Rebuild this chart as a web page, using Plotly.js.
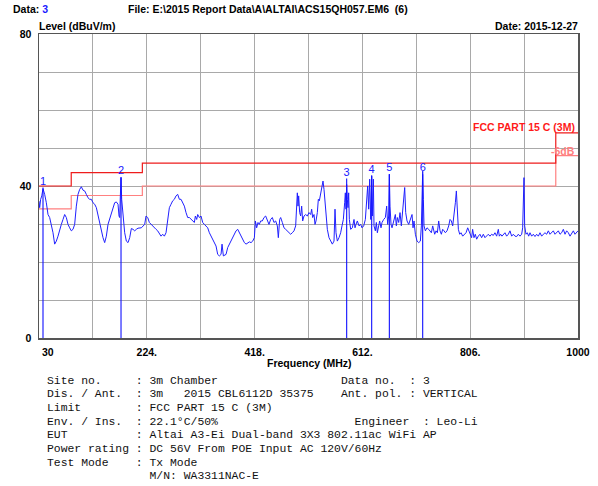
<!DOCTYPE html>
<html><head><meta charset="utf-8">
<script src="https://cdn.plot.ly/plotly-3.0.1.min.js"></script>
<style>body{margin:0;background:#fff}#chart{width:598px;height:486px}</style>
</head><body><div id="chart"></div>
<script>
const freqMHz = [
30,31.2,33,35,37.2,40.2,43.2,46.2,49.2,52.2,55.2,58.2,61.2,64.2,67.2,70.2,73.2,76.2,79.2,82.2,85.2,88.2,91.2,94.2,97.2,100.2,103.2,106.2,109.2,112.2,115.2,118.2,121.2,124.2,127.2,130.2,133.2,136.2,139.2,142.2,145.2,148.2,151.2,154.2,157.2,160.2,163.2,166.2,169.2,172.2,174,175.2,176.4,177.6,178.8,181.2,184.2,187.2,190.2,193.2,196.2,199.2,202.2,205.2,208.2,214.2,220.2,
222.6,225.6,228.6,231.6,234.6,237.6,240.6,243.6,246.6,249.6,252.6,255.6,258.6,261.6,264.6,267.6,270.6,273.6,276.6,279.6,282.6,285.6,288.6,291.6,294.6,297.6,300.6,303.6,306.6,309.6,311.4,313.8,315.6,318.6,321.6,324.6,327.6,330.6,333.6,336.6,339.6,342.6,345.6,348.6,351.6,354.6,357.6,359.4,361.8,364.8,366.6,369.6,372.6,375.6,378.6,381.6,384.6,387.6,390.6,393.6,396.6,399.6,402.6,405.6,408.6,411.6,414.6,417.6,419.4,
421.7,424.1,426.5,428.9,431.9,434.9,437.9,440.9,443.9,446.9,449.9,452.9,455.9,458.9,460.7,463.1,464.9,467.9,470.9,473.9,476.9,479.9,482.9,485.9,488.9,491.9,493.7,494.9,496.1,497.3,499.1,500.9,502.7,504.5,506.9,509.9,512.9,515.9,518.9,520.7,522.5,524.9,526.7,528.5,530.9,532.7,534.5,536.9,538.7,541.1,542.9,544.7,546.5,548.9,551.9,554.9,557.9,560.9,562.7,564.5,566.9,569.9,572.9,575.3,577.7,580.1,581.3,582.5,583.7,584.9,586.1,587.3,588.5,590.9,593.9,596.9,598.7,600.5,602.9,605.9,608.9,
611.3,614.3,617.3,619.7,621.5,623.3,625.1,626.9,628.7,629.9,631.7,632.9,635.3,637.1,638.9,641.3,643.1,645.5,647.3,650.3,653.3,655.7,657.5,659.3,660.5,661.7,663.5,665.3,668.3,671.3,673.1,674.9,677.3,679.7,682.1,684.5,686.3,688.1,689.9,692.3,695.3,698.3,701.3,703.1,704.9,707.3,710.3,713.3,716.3,718.1,719.3,720.5,721.7,722.9,725.3,728.3,731.3,733.7,736.1,738.5,740.3,742.1,744.5,746.9,749.3,751.7,754.1,756.5,758.9,761.3,764.3,767.3,769.7,772.1,774.5,776.9,779.3,781.1,782.9,784.7,787.1,789.5,792.5,795.5,798.5,801.5,804.5,
808.6,810.4,812.8,815.2,817.6,820.6,823.6,826.6,829.6,832.6,835.6,838.6,841.6,844.6,847.6,850.6,853.6,856.6,858.4,860.8,863.2,865.6,868.6,871.6,874.6,877.6,880.6,883.6,886.6,889.6,892.6,895.6,898.6,900.4,901.6,902.8,904,906.4,908.8,911.2,913.6,916.6,919.6,922.6,925.6,928.6,931.6,934.6,937.6,940.6,943.6,946.6,949.6,952.6,955.6,958.6,961.6,964.6,967.6,970.6,973.6,976.6,979.6,982.6,985.6,988.6,991.6,994.6,997.6,1000
];
const levelDb = [
36.0,34.3,36.5,37.4,39.3,37.8,35.6,32.5,31.7,29.9,27.7,24.7,25.5,26.8,28.6,29.9,31.2,32.5,31.7,29.9,29.0,28.2,28.6,29.9,34.7,37.8,39.1,39.8,38.9,38.7,37.8,36.9,36.5,36.5,35.6,35.2,34.3,32.1,29.9,27.7,26.4,25.1,26.8,29.9,31.2,32.5,34.3,35.6,35.8,35.2,32.1,31.7,37.4,42.2,36.5,32.1,27.7,25.5,25.1,26.4,28.8,28.6,28.2,28.6,28.9,29.0,29.9,
32.1,31.7,30.4,29.9,29.5,29.0,28.6,28.2,27.3,26.8,27.3,26.8,27.7,31.2,34.3,35.2,36.1,36.5,37.4,37.8,36.5,36.5,35.6,34.7,33.0,31.7,31.7,31.2,30.8,30.4,32.1,31.2,32.5,31.7,32.1,30.4,29.9,29.5,29.0,27.7,26.8,26.0,25.1,24.2,22.0,21.6,22.0,24.7,21.6,21.8,22.0,23.8,24.7,25.5,26.4,27.3,28.2,28.6,27.7,26.8,26.0,25.1,24.7,24.9,25.3,25.1,25.5,26.4,30.8,
29.0,30.4,29.9,30.8,30.8,31.7,32.1,30.8,29.9,31.2,31.7,30.4,30.8,29.5,26.4,31.2,31.7,30.4,29.0,28.6,28.2,27.7,27.3,27.7,28.2,29.5,33.9,38.2,34.7,37.4,33.0,32.1,34.7,30.8,32.1,32.5,32.1,33.0,32.5,33.9,31.7,32.5,29.9,30.8,33.0,36.5,36.1,37.8,40.0,41.3,39.1,36.5,32.5,28.6,26.4,25.5,24.7,25.5,33.9,27.7,25.5,26.4,27.7,29.5,31.2,35.6,38.2,33.9,40.4,36.5,34.3,38.2,31.2,28.6,29.0,31.2,29.0,29.9,30.8,29.5,29.9,
29.0,29.5,31.2,36.5,40.0,33.9,41.8,31.2,42.6,32.1,41.8,29.5,28.2,30.4,27.7,29.5,30.8,29.0,30.4,31.2,31.7,34.7,29.9,32.1,43.1,34.7,29.9,29.0,30.8,32.5,29.5,31.7,30.4,33.0,29.5,33.9,37.4,39.6,33.0,30.8,29.9,31.2,32.5,29.0,30.8,27.3,25.5,25.1,25.5,29.5,39.1,43.9,36.5,29.5,28.2,29.0,28.6,28.2,27.7,29.5,28.2,27.3,28.2,27.7,30.8,28.2,27.3,28.6,28.2,27.7,28.2,29.5,31.2,30.8,29.5,32.1,35.6,38.7,34.7,28.6,27.3,27.7,26.8,27.3,27.7,29.0,27.7,
26.4,28.6,26.4,27.3,26.0,26.8,27.3,26.4,27.3,26.4,26.8,27.3,26.8,27.3,27.0,27.7,26.8,28.6,26.8,27.3,26.8,27.3,27.7,26.8,27.3,28.2,26.8,27.3,26.8,26.7,27.3,26.8,27.3,29.0,41.8,42.2,29.5,27.3,27.7,26.8,27.7,26.8,27.3,26.7,27.3,26.8,27.7,26.8,27.3,27.7,27.3,28.2,27.3,27.7,28.2,27.3,27.7,28.2,27.3,27.7,28.6,27.3,28.2,27.7,26.8,27.7,28.2,27.3,27.7,28.2
];
const limitFreq = [30, 88, 216, 960, 1000];
const limitLevel = [40, 43.5, 46, 54, 54];
const marginLevel = [34, 37.5, 40, 48, 48];
const markerFreq = [37.2, 177.6, 583.7, 628.7, 660.5, 720.5];
const markerLevel = [39.6, 42.4, 42.0, 42.8, 43.1, 43.1];
const markerLabel = ['1', '2', '3', '4', '5', '6'];
const xTickVals = [30, 127, 224, 321, 418, 515, 612, 709, 806, 903, 1000];
const xTickText = ['\u00a0\u00a0\u00a0\u00a0\u00a0\u00a030', '', '224.', '', '418.', '', '612.', '', '806.', '', '1000'];
const yTickVals = [0, 10, 20, 30, 40, 50, 60, 70, 80];
const yTickText = ['0', '', '', '', '40', '', '', '', '80'];
const headerData = 'Data: ';
const headerDataNo = '3';
const headerFile = 'File: E:\\2015 Report Data\\A\\ALTAI\\ACS15QH057.EM6  (6)';
const yTitle = 'Level (dBuV/m)';
const dateText = 'Date: 2015-12-27';
const xTitle = 'Frequency (MHz)';
const limitName = 'FCC PART 15 C (3M)';
const marginName = '-6dB';
const infoLabels = ['Site no.', 'Dis. / Ant.', 'Limit', 'Env. / Ins.', 'EUT', 'Power rating', 'Test Mode', ''];
const infoValues = ['3m Chamber', '3m   2015 CBL6112D 35375', 'FCC PART 15 C (3M)', '22.1\u00b0C/50%', 'Altai A3-Ei Dual-band 3X3 802.11ac WiFi AP', 'DC 56V From POE Input AC 120V/60Hz', 'Tx Mode', 'M/N: WA3311NAC-E'];
const infoRight = ['Data no.  : 3', 'Ant. pol. : VERTICAL', '', 'Engineer  : Leo-Li', '', '', '', ''];
const infoRightCol = [43, 43, 0, 45, 0, 0, 0, 0];

// layout helpers (pixel geometry)
const PL = 39, PR = 578, PT = 34, PB = 338;
const px = x => (x - PL) / (PR - PL);
const py = y => (PB - y) / (PB - PT);
const NARROW = '"Liberation Sans", Arial, sans-serif';
const boldFont = (size, color) => ({family: NARROW, size: size, weight: 'bold', color: color || '#000'});
const FS = 10.5;

const lines = infoLabels.map((lab, i) => {
  let s = lab ? (lab.padEnd(13, ' ') + ': ' + infoValues[i]) : (' '.repeat(15) + infoValues[i]);
  if (infoRight[i]) s = s.padEnd(infoRightCol[i], ' ') + infoRight[i];
  return s.replace(/ /g, '\u00a0');
});

const mkX = [], mkY = [];
markerFreq.forEach((f, i) => { mkX.push(f, f, null); mkY.push(0, markerLevel[i], null); });

const traces = [
  {x: limitFreq, y: marginLevel, mode: 'lines', line: {shape: 'hv', color: '#ff8080', width: 1.2}, hoverinfo: 'skip'},
  {x: limitFreq, y: limitLevel, mode: 'lines', line: {shape: 'hv', color: '#ee1c1c', width: 1.2}, hoverinfo: 'skip'},
  {x: freqMHz, y: levelDb, mode: 'lines', line: {color: '#2020ff', width: 1}},
  {x: mkX, y: mkY, mode: 'lines', line: {color: '#1010ff', width: 1.1}},
  {x: markerFreq, y: markerLevel, mode: 'text', text: markerLabel, textposition: 'top center',
   textfont: {family: '"Liberation Sans", Arial, sans-serif', size: 11, color: '#2020ff'}}
];

const ann = [];
ann.push({xref: 'paper', yref: 'paper', x: px(11), y: py(8.5), xanchor: 'left', yanchor: 'middle', showarrow: false,
  text: headerData + '<span style="color:#1a1aff">' + headerDataNo + '</span>', font: boldFont(FS)});
ann.push({xref: 'paper', yref: 'paper', x: px(126), y: py(8.5), xanchor: 'left', yanchor: 'middle', showarrow: false, text: headerFile, font: boldFont(FS)});
ann.push({xref: 'paper', yref: 'paper', x: px(37), y: py(25.5), xanchor: 'left', yanchor: 'middle', showarrow: false, text: yTitle, font: boldFont(FS)});
ann.push({xref: 'paper', yref: 'paper', x: px(580), y: py(25.5), xanchor: 'right', yanchor: 'middle', showarrow: false, text: dateText, font: boldFont(FS)});
ann.push({xref: 'paper', yref: 'paper', x: px(309), y: py(363), xanchor: 'center', yanchor: 'middle', showarrow: false, text: xTitle, font: boldFont(FS)});
ann.push({xref: 'paper', yref: 'paper', x: px(577), y: py(126.5), xanchor: 'right', yanchor: 'middle', showarrow: false, text: limitName, font: boldFont(FS, '#ff1a1a')});
ann.push({xref: 'paper', yref: 'paper', x: px(577), y: py(150.5), xanchor: 'right', yanchor: 'middle', showarrow: false, text: marginName, font: boldFont(FS, '#ff8080')});
lines.forEach((s, i) => {
  ann.push({xref: 'paper', yref: 'paper', x: px(45), y: py(380.5 + i * 13.7), xanchor: 'left', yanchor: 'middle', showarrow: false,
    text: s, font: {family: '"Liberation Mono", "DejaVu Sans Mono", monospace', size: 11.4, color: '#111'}});
});

const layout = {
  width: 598, height: 486,
  margin: {l: PL, r: 598 - PR, t: PT, b: 486 - PB, pad: 0},
  paper_bgcolor: '#fff', plot_bgcolor: '#fff',
  showlegend: false,
  xaxis: {range: [30, 1000], tickmode: 'array', tickvals: xTickVals, ticktext: xTickText,
    showgrid: true, gridcolor: '#a9a9a9', gridwidth: 1, zeroline: false,
    showline: true, mirror: true, linecolor: '#555', linewidth: 1.5, ticks: '',
    tickfont: boldFont(FS), ticklabelstandoff: 4, fixedrange: true},
  yaxis: {range: [0, 80], tickmode: 'array', tickvals: yTickVals, ticktext: yTickText,
    showgrid: true, gridcolor: '#a9a9a9', gridwidth: 1, zeroline: false,
    showline: true, mirror: true, linecolor: '#555', linewidth: 1.5, ticks: '',
    tickfont: boldFont(FS), ticklabelstandoff: 4, fixedrange: true},
  annotations: ann
};
Plotly.newPlot('chart', traces, layout, {displayModeBar: false, staticPlot: true});
</script></body></html>
